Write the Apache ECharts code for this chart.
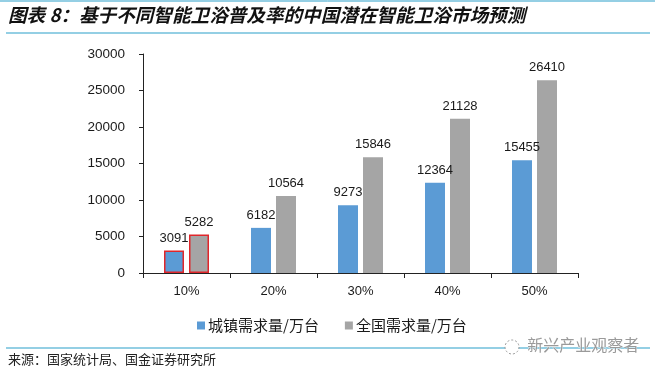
<!DOCTYPE html>
<html><head><meta charset="utf-8">
<script src="https://cdn.jsdelivr.net/npm/echarts@6/dist/echarts.min.js"></script>
<style>html,body{margin:0;padding:0;background:#fff}#c{width:655px;height:374px}</style>
</head><body><div id="c"></div>
<script>
var categories = ['10%', '20%', '30%', '40%', '50%'];
var urbanDemand = [3091, 6182, 9273, 12364, 15455];
var nationalDemand = [5282, 10564, 15846, 21128, 26410];
var seriesNames = ['城镇需求量/万台', '全国需求量/万台'];
var yTicks = {min: 0, max: 30000, interval: 5000};
var titleText = '图表 8：基于不同智能卫浴普及率的中国潜在智能卫浴市场预测';
var sourceText = '来源：国家统计局、国金证券研究所';
var watermarkText = '新兴产业观察者';

function mk(arr) {
  return arr.map(function (v, i) {
    if (i === 0) return {value: v, itemStyle: {borderColor: '#e0262b', borderWidth: 1.5}};
    return v;
  });
}
var chart = echarts.init(document.getElementById('c'), null, {renderer: 'canvas'});
var lbl = {show: true, position: 'top', distance: 6, color: '#1a1a1a', fontSize: 13, fontFamily: 'Liberation Sans'};
chart.setOption({
  animation: false,
  backgroundColor: '#fff',
  grid: {left: 143, right: 77, top: 54, bottom: 101, containLabel: false},
  legend: {
    left: 192, top: 313, itemWidth: 8, itemHeight: 8, itemGap: 26, icon: 'rect',
    textStyle: {fontSize: 15, color: '#1a1a1a', fontFamily: 'Noto Sans CJK SC', padding: [0, 0, 0, -2]},
    data: seriesNames
  },
  xAxis: {
    type: 'category', data: categories,
    axisLine: {lineStyle: {color: '#222', width: 1}},
    axisTick: {show: true, length: 5, alignWithLabel: false, lineStyle: {color: '#222'}},
    axisLabel: {color: '#1a1a1a', fontSize: 13, fontFamily: 'Liberation Sans', margin: 12}
  },
  yAxis: {
    type: 'value', min: yTicks.min, max: yTicks.max, interval: yTicks.interval,
    axisLine: {show: true, lineStyle: {color: '#222', width: 1}},
    axisTick: {show: true, length: 4, lineStyle: {color: '#222'}},
    splitLine: {show: false},
    axisLabel: {color: '#1a1a1a', fontSize: 13.5, fontFamily: 'Liberation Sans', margin: 18,
                formatter: function (v) { return String(v); }}
  },
  series: [
    {name: seriesNames[0], type: 'bar', data: mk(urbanDemand), barWidth: 20, barGap: '25%',
     itemStyle: {color: '#5b9bd5'}, label: lbl},
    {name: seriesNames[1], type: 'bar', data: mk(nationalDemand), barWidth: 20,
     itemStyle: {color: '#a5a5a5'}, label: lbl}
  ],
  graphic: [
    {type: 'line', shape: {x1: 0, y1: 1, x2: 655, y2: 1}, style: {stroke: '#2a9fc9', lineWidth: 1}},
    {type: 'text', left: 8, top: 6, style: {text: titleText, fontSize: 18.6, fontWeight: 'bold', fontStyle: 'italic', fill: '#111', fontFamily: 'Noto Sans CJK SC'}},
    {type: 'line', shape: {x1: 6, y1: 33, x2: 650, y2: 33}, style: {stroke: '#2a9fc9', lineWidth: 1.2}},
    {type: 'line', shape: {x1: 6, y1: 348, x2: 650, y2: 348}, style: {stroke: '#2a9fc9', lineWidth: 1.2}},
    {type: 'text', left: 8, top: 353, style: {text: sourceText, fontSize: 13, fill: '#222', fontFamily: 'Noto Sans CJK SC'}},
    {type: 'text', left: 527, top: 337, style: {text: watermarkText, fontSize: 16, fill: '#9a9a9a', fontFamily: 'Noto Sans CJK SC', stroke: '#fff', lineWidth: 0.5}},
    {type: 'circle', shape: {cx: 512, cy: 347, r: 7}, style: {fill: '#fff', stroke: '#9a9a9a', lineWidth: 1, lineDash: [2, 2]}}
  ]
});
</script></body></html>
